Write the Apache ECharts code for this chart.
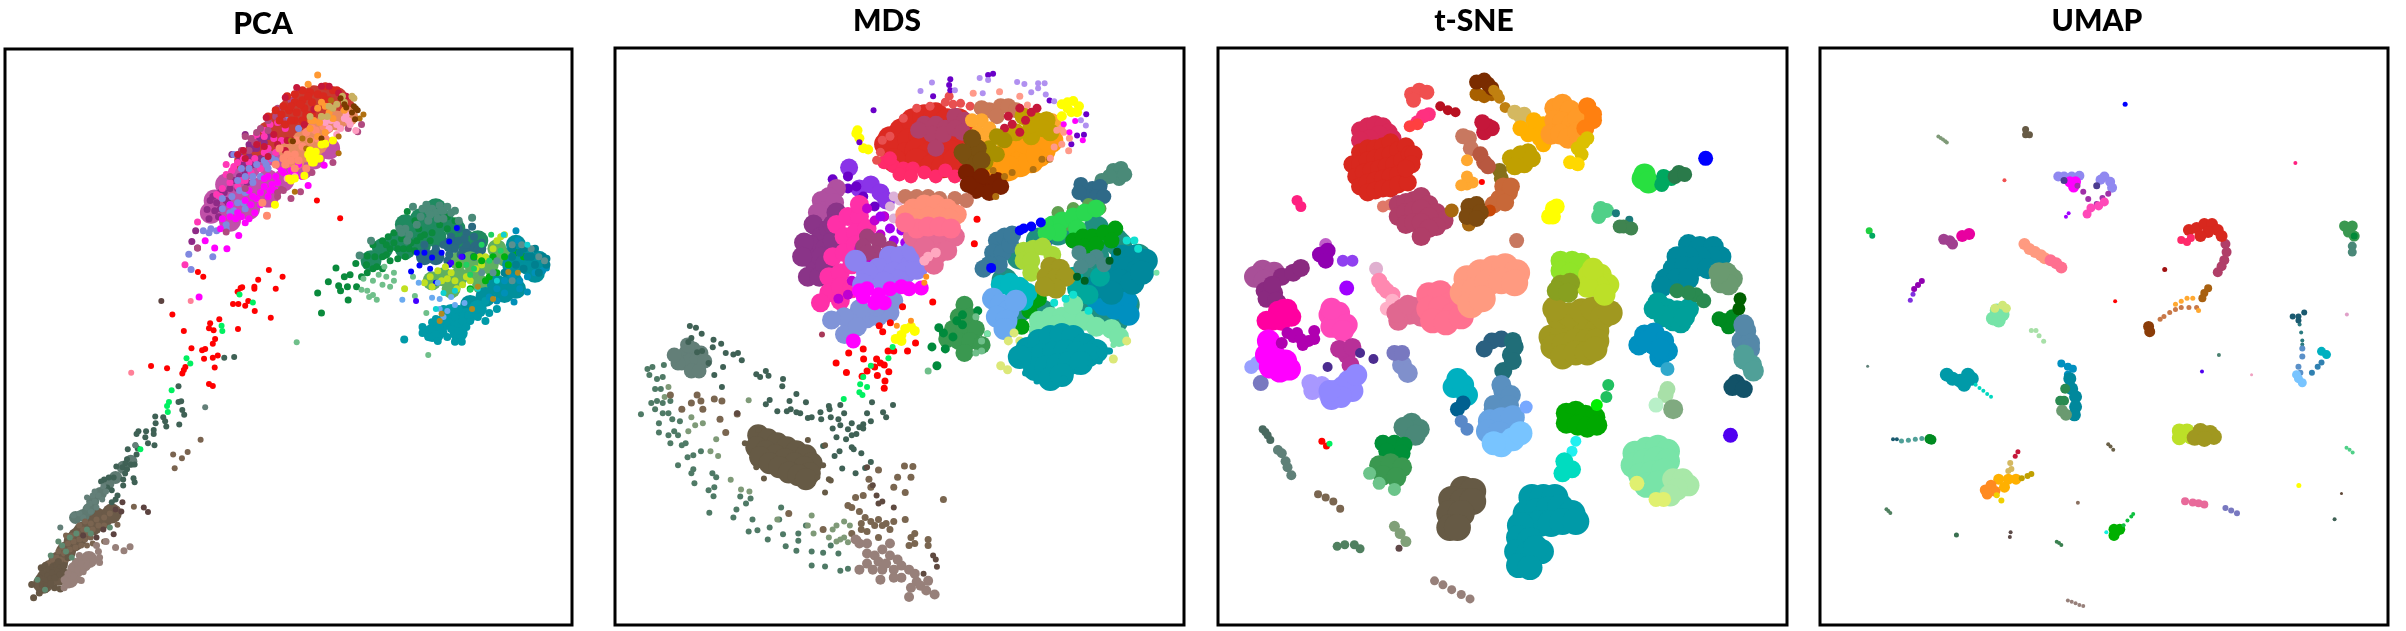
<!DOCTYPE html>
<html>
<head>
<meta charset="utf-8">
<title>PCA MDS t-SNE UMAP</title>
<script src="https://cdn.jsdelivr.net/npm/echarts@6/dist/echarts.min.js"></script>
<style>
  html, body { margin: 0; background: #fff; }
  #main { width: 2406px; height: 631px; }
</style>
</head>
<body>
<div id="main"></div>
<script>
var titles = ['PCA', 'MDS', 't-SNE', 'UMAP'];

/* PCA */
var pcaFillLow = [550,530,580,520,610,500,640,480,670,470,700,450,620,440,650,420,680,400,710,385,590,460,740,400,770,380,560,500,600,550,650,520,700,490,740,450,790,420,820,395,860,370];
var pcaFillUp = [700,330,730,300,760,270,790,250,820,240,850,235,880,245,750,330,780,300,810,280,840,270,870,270,900,270,720,350,670,370,640,400];
var pcaFillMid = [790,350,820,330,850,310,880,300,770,400,800,380,830,360,750,370,910,290];
var pcaFillGreen = [1000,620,1040,600,1080,580,1120,560,1160,550,1190,570,1060,620,1100,610,1140,590,1220,600,970,650,1130,530,1060,560,1100,545,1140,520,1250,600];
var pcaFillDeep = [1180,610,1220,630,1250,620,1140,640,1110,640];
var pcaFillLime = [1160,690,1200,690,1240,680,1280,660,1320,640,1200,650,1260,710,1180,720,1130,700,1230,650,1300,620];
var pcaFillRight = [1340,660,1380,660,1410,650,1300,710,1340,700,1270,740,1230,760,1370,630,1320,730,1350,720,1400,680,1350,610];
var pcaFillBottom = [1150,810,1190,810,1220,790,1180,780,1250,770,1140,830,1200,830,1130,830];
var pcaFillBrown = [130,1420,150,1400,120,1440,170,1375,190,1350,215,1325,240,1310,265,1295,150,1435,110,1455,200,1340,250,1290,290,1280];
var pcaFillRose = [195,1420,215,1405,180,1445,230,1395];
var pcaFillSlate = [240,1250,215,1285,280,1205,320,1165,260,1230,300,1190,340,1150,230,1270,195,1290];
var pcaSlate = [465,963,465,1002,472,1000,475,1022,480,1034,467,1058,404,1038,405,1055,425,1040,430,1050,433,1063,360,1075,355,1082,380,1075,400,1072,378,1090,400,1082,385,1105,402,1110,352,1110,358,1118,332,1120,355,1133,330,1145,326,1155,340,1158,350,1158,302,1163,318,1165,330,1170,325,1180,347,1192,350,1202,320,1195,295,1190,282,1190,270,1195,262,1200,278,1215,290,1222,320,1210,305,1235,300,1245,290,1252,585,892,611,890];
var pcaSlateLight = [225,1240,240,1235,255,1235,265,1245,245,1250,232,1255,250,1265,225,1265,205,1280,190,1285,215,1290,155,1315,235,1275,275,1225,535,1015,352,1110,245,1225,268,1212];
var pcaTaupe = [300,1270,285,1280,270,1290,305,1270,250,1295,235,1305,220,1300,205,1310,255,1310,240,1320,225,1330,270,1310,215,1320,200,1330,185,1335,190,1350,205,1345,220,1345,235,1340,170,1335,175,1355,160,1365,150,1375,165,1380,180,1370,195,1365,210,1360,225,1360,240,1355,145,1390,155,1395,170,1395,135,1395,125,1405,348,1263,523,1096,489,1127,474,1142,451,1133,455,1167,305,1308,270,1350];
var pcaBrown = [105,1415,115,1410,125,1420,135,1412,145,1408,155,1415,110,1430,122,1435,135,1428,148,1425,100,1440,115,1448,130,1442,142,1440,155,1432,165,1425,108,1458,120,1460,80,1457,100,1478,85,1490,140,1465,155,1468,115,1470,130,1455,150,1400,165,1410,175,1390];
var pcaRose = [205,1385,220,1390,235,1385,195,1400,210,1405,225,1410,240,1400,185,1415,200,1420,215,1425,175,1430,190,1435,205,1445,165,1445,180,1450,165,1465,175,1458,255,1375,258,1390,250,1360,258,1402,338,1363,322,1373,300,1365,210,1447,275,1350];
var pcaSeaBits = [235,1330,225,1320,170,1375,185,1390,150,1350,160,1360,130,1385,115,1470,95,1445,197,1330,180,1340,285,1315];
var pcaMaroon = [318,1252,300,1270,315,1275,385,1276,374,1265,295,1332,268,1320,250,1340,215,1335,420,750];
var pcaRed = [828,500,889,544,516,678,530,690,702,673,674,697,738,690,720,720,664,715,664,720,632,716,628,718,620,727,648,750,640,762,622,758,608,758,665,775,707,792,621,820,572,796,548,806,545,818,557,823,479,825,449,784,561,845,555,857,535,870,527,873,499,868,532,894,555,892,568,886,560,916,483,915,479,922,475,931,393,912,435,918,545,957,555,962];
var pcaSpring = [625,734,660,754,578,812,580,825,486,893,496,906,447,973,440,1002,435,1012,437,1027,365,1120];
var pcaPeach = [341,929,497,750];
var pcaPlum = [540,522,548,500,555,490,545,545,565,505,575,520,585,480,600,470,570,540,595,505,610,450,625,440,640,430,650,390,660,370,675,345,640,335,650,360,670,370,690,355,700,340,605,385,625,390,635,410,660,410,680,395,510,575,500,602,515,618,575,480,560,525,590,500,620,470,645,455];
var pcaHotPink = [515,553,590,410,590,435,605,425,620,405,635,395,600,455,580,470,565,485,620,465,640,450,655,430,680,420,700,400,720,380,670,335,690,325,705,310,725,305,745,320,715,345,735,350,690,380,482,660,575,490,610,415,665,395,650,405,630,450,700,370,660,345,690,340];
var pcaPeriwinkle = [550,570,530,575,545,580,565,575,590,570,580,520,600,510,620,505,640,480,625,475,605,490,580,495,620,450,640,440,660,455,670,410,690,400,710,395,650,420,630,420,610,385,700,420,720,400,760,265,780,320,750,300,492,634,498,672,555,640,590,560,610,525,635,505,680,440,600,530,660,440,695,410,640,520];
var pcaMagenta = [600,540,620,530,650,545,665,530,680,510,660,490,680,480,700,490,690,465,710,460,720,440,740,430,760,425,780,410,790,440,805,462,720,475,735,425,700,440,640,500,600,510,580,545,623,587,592,620,560,618,535,600,519,740,575,570,650,475,670,495,615,545,705,475,750,440,690,445,630,540,655,510,725,455,770,430,640,555,847,412];
var pcaRosePurple = [640,340,655,345,670,330,680,320,700,300,720,290,740,300,650,375,630,375,760,250,725,270,590,578,515,618,600,440,640,470,760,495,725,490,785,478,735,472,945,310,935,328,910,320,725,480,665,355,700,325,815,430,870,405,740,475];
var pcaRedTop = [700,290,720,275,740,265,750,240,770,235,790,225,810,230,790,250,770,255,755,275,775,280,795,270,815,255,830,235,850,215,870,225,845,240,730,300,745,310,770,300,790,300,860,250,880,225,805,240,735,285,785,260,760,300,800,285,760,265,815,285];
var pcaCrimson = [775,218,745,243,695,293,905,240,885,232,860,215,840,215,820,272,725,360,700,390,670,360,640,395,620,385,635,375,765,350,745,375,715,335,690,365,750,350,795,310];
var pcaSalmon = [730,370,750,385,770,385,790,365,810,350,800,330,825,325,845,315,770,420,745,410,720,410,800,420,697,538,685,505,760,400,815,320,775,350,780,400,830,345,850,345,740,395];
var pcaPink = [880,310,900,295,915,310,930,325,910,300,770,440,750,445,880,335,860,320,890,320,905,285,865,300,850,305];
var pcaOrange = [820,300,840,290,860,280,830,270,850,265,805,210,830,187,812,300,900,275,830,340,850,330,835,305,870,295,840,255,810,320];
var pcaKhaki = [870,270,880,260,900,255,920,240,925,245,840,290,810,290,860,265,895,240,855,290];
var pcaBronze = [950,285,940,295,760,350,790,345,810,350,885,340,885,382,770,478,865,250,800,370];
var pcaDarkBrown = [930,270,920,280,925,265,900,260,890,245,928,297,765,352,840,345,905,268,935,275];
var pcaYellow = [820,385,810,395,820,405,840,360,850,358,805,385,760,450,770,445,795,438,718,510,870,350,825,378,815,405,830,395,755,445,835,395,810,375];
var pcaGreen = [878,668,930,657,900,690,915,685,858,702,885,712,890,725,908,715,932,715,945,690,958,660,975,670,960,680,985,665,1000,640,1020,620,1000,600,1015,590,1030,605,1050,595,1040,620,1070,620,1090,600,1095,570,1110,585,1130,580,980,640,960,638,1000,670,1020,650,1060,640,1040,645,830,730,840,780,910,748,1065,527,1085,550,1150,560,1170,540,1190,550,975,610,1010,610,1030,580,1075,605,1100,590,1010,635,1085,625,1125,600,1170,570,1055,620];
var pcaGreyGreen = [1150,512,1130,520,1120,525,1100,540,1090,560,1060,570,1045,570,1070,585,1140,530,1160,525,1180,530,1200,550,1080,515,1120,550,1160,545,940,637,970,600,1235,543,1050,580,1065,600,1105,520,1170,515,1145,545,1190,525,1125,535,1115,510,1155,525];
var pcaSea = [1010,690,1030,700,990,685,975,700,950,695,960,725,975,735,985,747,965,740,945,722,1020,715,1000,710,775,853,1120,885,1115,780,1085,738,1080,690,1005,665,1030,680];
var pcaDeepTeal = [1200,570,1220,580,1240,590,1180,590,1200,600,1160,610,1140,620,1190,620,1220,610,1250,620,1170,650,1130,640,1110,610,1150,640,1240,640,1260,605,1215,595,1175,635,1235,565,1205,635];
var pcaBlue = [1195,568,1175,602,1155,630,1130,642,1097,662,1075,677,1125,670,1175,660,1140,705,1090,630,1110,630,1210,640];
var pcaViolet = [1088,750,1207,640,1180,655];
var pcaLime = [1130,715,1125,690,1145,675,1165,665,1180,680,1200,660,1190,700,1210,710,1245,670,1260,660,1290,620,1310,590,1320,585,1300,600,1270,640,1058,720,1110,705,1195,720,1220,690,1170,695,1255,640,1230,700,1155,700];
var pcaBright = [1240,640,1290,640,1320,640,1350,630,1330,660,1270,700,1230,720,1200,660,1300,680,1370,640,1260,650,1280,690];
var pcaEmerald = [1260,610,1285,585,1240,670,1220,660,1280,650,1310,625,1230,722,1230,685];
var pcaTeal = [1130,820,1150,815,1170,800,1190,790,1210,800,1230,800,1250,790,1160,830,1180,820,1200,825,1220,815,1120,840,1145,850,1105,815,1105,830,1190,852,1208,852,1130,803,1270,800,1280,780,1260,770,1240,770,1057,846,1170,840,1160,770,1200,770,1140,795,1225,785,1300,770,1270,750];
var pcaCerulean = [1300,720,1320,700,1340,690,1360,700,1380,690,1400,680,1420,675,1280,740,1300,750,1345,753,1380,728,1350,575,1355,600,1320,730,1360,720,1430,668];
var pcaDeep = [1340,640,1360,630,1380,640,1400,660,1420,640,1430,660,1370,670,1350,660,1320,680,1400,620,1430,645,1390,640,1340,620,1370,620,1410,680];
var pcaGreyTeal = [1410,640,1425,650,1390,620,1365,610,1340,610,1300,650,1290,680,1260,680,1340,700];
var pcaSky = [1180,740,1150,770,1170,775,1190,760,1215,755,1150,745,1130,742,1052,747,1095,705,1145,705,1160,790];
var pcaCyan = [1380,610,1318,585,1160,730,1190,725,1140,770,1250,720,1300,700];
var pcaGold = [1330,678,1355,680,1250,715,1290,745,1235,770,1150,800,1155,782];

/* MDS */
var mdsGroupTop = [225,880,245,870,265,880,215,905,235,900,255,895,275,900,240,925,260,925,205,905,195,885,230,860];
var mdsSlate = [236,813,252,817,267,832,240,843,232,853,298,847,318,857,296,866,330,880,350,884,362,880,372,898,300,935,323,915,285,905,268,875,255,878,410,933,420,940,435,925,442,937,515,982,540,1003,600,1012,602,1020,445,997,435,1008,497,1000,500,1020,465,1025,490,1025,515,1028,525,1030,545,1042,555,1040,578,1028,580,1045,605,1040,625,1045,640,1030,610,1068,630,1060,650,1070,660,1055,680,1065,690,1058,710,1050,700,1030,713,1003,768,1010,750,1040,742,1028,630,1010,620,1090,645,1095,660,1085,672,1082,690,1068,660,1115,665,1120,685,1130,615,1137,628,1125,585,1112,635,1168,670,1180,695,1167,710,1152,480,945,478,963,320,965];
var mdsGreen = [125,920,138,915,168,910,130,935,150,945,165,940,145,970,160,970,135,1005,150,1000,165,1005,185,1000,108,1033,145,1020,165,1030,180,1030,190,1045,210,1050,155,1055,155,1078,180,1085,195,1075,205,1085,215,1110,185,1105,225,1105,230,1140,245,1135,265,1125,205,1160,245,1170,240,1180,248,1205,295,1180,305,1190,285,1222,300,1215,298,1237,287,1278,350,1290,358,1270,383,1255,368,1238,395,1243,390,1325,413,1322,400,1295,440,1345,445,1315,480,1332,487,1362,520,1348,515,1373,555,1410,590,1412,630,1423,650,1418,555,1375,585,1378,625,1380,605,1360,520,1330,540,1310,470,1295,475,1265];
var mdsSage = [180,965,170,990,240,1040,250,1060,232,1075,270,1055,305,1095,310,1137,290,1125,343,1196,370,1220,392,1225,465,1295,555,1285,620,1310,640,1340,620,1350,640,1300,655,1310,545,1310,560,1330,600,1340,610,1320,390,998,630,1345,650,1352];
var mdsTaupe = [185,985,255,985,240,1005,265,1000,300,995,320,1000,270,1020,330,1078,315,1045,215,1020,360,1032,798,1162,820,1163,815,1190,780,1190,770,1215,800,1228,900,1245,650,1260,670,1240,690,1235,710,1215,705,1195,730,1172,660,1265,680,1275,695,1290,685,1305,710,1300,730,1295,750,1305,770,1300,800,1295,700,1325,730,1340,760,1320,815,1340,825,1330,860,1345,860,1360,825,1355,810,1360,720,1310,740,1310,685,1320,585,1320,495,1280,660,1330,675,1345];
var mdsDarkBrown = [700,1165,715,1210,725,1235,740,1250,770,1265,730,1255,360,1030,873,1385,880,1395,883,1413,848,1430];
var mdsRose = [700,1380,720,1385,740,1370,760,1385,780,1395,730,1400,750,1405,770,1420,790,1410,810,1420,825,1430,790,1440,770,1440,740,1420,715,1420,680,1420,700,1405,680,1355,670,1345,700,1355,735,1445,830,1450,860,1448,840,1460,815,1465,810,1488,877,1482,855,1472,760,1355];
var mdsBlobCore = [415,1085,440,1095,465,1105,490,1115,515,1125,540,1135,555,1155,410,1115,435,1125,460,1135,485,1145,510,1155,535,1165,550,1180,420,1140,445,1155,470,1165,495,1178,520,1185,540,1195];
var mdsBlobEdge = [380,1105,600,1195,590,1228,430,1193,410,1165,585,1160,545,1097,590,1110,570,1190,415,1072,605,1198];
var mdsRedFill = [760,345,790,325,820,300,850,290,880,285,780,370,810,350,840,340,870,355,900,360,925,345,800,385,830,375,860,385,890,390,920,380,750,360,830,400,870,415,900,415,930,400,910,300,940,300,960,330,770,400];
var mdsPlumRed = [850,310,880,310,905,320,930,290,955,300,870,335,900,335,930,320,880,370,835,325,950,330];
var mdsHotRed = [745,405,770,415,795,420,820,420,760,395,850,430,880,440,930,440,905,425,785,435,815,440];
var mdsSalmonRed = [735,380,740,350,925,260,945,258,915,240,905,255,970,265,955,395,725,400,760,340,795,295,830,270,865,265];
var mdsRoseBrown = [1020,275,1050,265,1040,290,1070,265,1000,270,1090,275];
var mdsCrimson = [1070,290,1100,270,1130,280,1145,270,1080,310,1115,300,1060,320,1100,330,1045,340];
var mdsGold = [1110,290,1140,300,1170,300,1090,330,1130,340,1160,320,1055,345,1180,330,1130,310];
var mdsOrange = [1060,390,1090,380,1120,370,1150,350,1100,410,1070,420,1130,400,1040,410,1160,375,1110,350,1150,385,1180,350];
var mdsAmber = [1000,300,990,330,1020,320,1170,320,1185,300,1010,345,975,300,1195,315];
var mdsOliveDark = [1020,370,1040,340,1060,350,1010,405,1040,385];
var mdsUmber = [960,390,990,370,980,410,1000,400,975,345,950,380];
var mdsMaroon = [980,450,1010,460,1040,450,960,430,1000,440,1020,480,985,475,1050,465,965,460];
var mdsBronze = [1030,425,1060,440,1080,430,1037,490,1135,423,1158,397,1178,397];
var mdsYellow = [1210,260,1225,255,1240,252,1255,265,1235,280,1250,280,1210,290,1225,270,675,325,680,345,690,370,672,333,703,373,800,820,790,850,815,815,790,835,775,845,825,825];
var mdsSprayPurple = [717,275,873,240,918,198,915,212,918,225,1017,187,1030,184,1178,251,1274,285,1268,336,1250,338,1235,360,680,355];
var mdsSprayLilac = [870,206,840,227,995,195,1017,200,1093,205,1112,210,1148,208,1165,208,1168,236,1148,220,1130,230,1003,233,930,225,1260,300,1273,313,1190,253];
var mdsSprayPeach = [978,233,1047,229,1100,240,1120,262,1215,330,1230,345,1210,360,1228,376,1190,367,1180,395,1197,325,1210,318];
var mdsSprayMagenta = [1245,302,1230,330,1265,350,1215,310];
var mdsViolet = [680,470,710,460,735,480,750,500,653,418];
var mdsIndigo = [610,447,650,440,650,470,690,490,720,515,745,540,672,465];
var mdsPlumRose = [620,470,600,490,580,500,590,525,570,530,615,505];
var mdsPlum = [560,560,580,590,550,610,590,620,540,640,565,660,600,570,620,530,580,640,545,690,575,690,535,605,530,640,610,600,610,560,590,660];
var mdsHotPink = [620,560,650,540,680,540,640,590,670,580,610,640,640,630,670,610,600,690,630,680,660,660,600,730,630,750,578,755,680,510,630,715,660,720,700,570];
var mdsPurple = [700,520,720,550,745,540,680,620,700,650,660,700,650,735,625,745,735,585,710,590];
var mdsBrightPurple = [760,570,790,575,735,540,800,605,770,600];
var mdsMauve = [700,590,730,600,760,620,745,650,720,630,690,615,700,630];
var mdsPeriwinkle = [760,640,790,640,820,650,730,670,770,680,800,680,830,670,780,700,700,680,670,650,820,625,690,710,745,705];
var mdsMagenta = [700,720,730,735,760,720,790,715,810,720,720,755,745,755,690,740,842,718,664,850,680,725];
var mdsSteelLilac = [670,790,700,795,730,790,760,780,680,770,650,795,640,790,607,798,641,834,725,765,770,750,675,815];
var mdsLilacPink = [770,490,760,515,770,545,785,500];
var mdsSalmon = [820,520,850,510,880,510,910,520,935,535,800,535,830,545,860,540,890,540,915,545];
var mdsCoral = [830,570,860,565,890,565,920,570,800,555];
var mdsRosy = [800,490,830,490,860,490,890,495,930,495,960,500];
var mdsPinkMid = [840,600,870,600,900,600,930,590,860,630,890,630,875,660,910,625,820,590,850,615];
var mdsPalePink = [860,640,880,630,850,650];
var mdsRedLow = [988,547,981,608,872,753,793,765,761,805,732,812,741,827,690,870,652,880,619,905,646,929,691,895,725,895,735,905,745,910,720,915,700,925,687,938,727,936,757,927,747,950,745,968,770,875,755,875,806,875,827,855];
var mdsRedLowDark = [582,834];
var mdsSpringLow = [767,865,756,893,710,912,690,940,682,958,700,965,680,978,688,985,639,995];
var mdsOrangeLow = [855,690,850,705,778,812,815,800];
var mdsGreenTri = [955,760,940,790,970,790,925,820,955,820,985,820,910,845,940,850,970,850,1000,860,955,880];
var mdsGreenTriDark = [935,800,900,830,905,870,950,810,888,817,870,865,883,912,925,840,950,785,990,775];
var mdsGreenTriLight = [985,790,1000,850,985,880,1015,832,860,925,1000,875];
var mdsGreyGreenTop = [1345,425,1365,420,1360,445,1335,440,1315,450,1375,435];
var mdsSteelTop = [1290,470,1310,465,1275,490,1300,490,1320,490,1260,460,1255,480];
var mdsRightFill = [1150,600,1200,580,1250,590,1300,570,1350,600,1100,640,1300,640,1360,610,1410,640,1280,700,1330,770,1380,760,1060,700,1100,770,1160,780,1250,760,1300,790,1350,800,1390,690];
var mdsEmerald = [1185,560,1210,550,1240,540,1270,530,1200,580,1250,570,1300,520,1170,580];
var mdsMoss = [1240,520,1280,510,1310,520,1230,560,1200,530];
var mdsBlue = [1110,570,1130,565,1155,555,1100,575,1170,610,1025,668];
var mdsSteelLeft = [1040,600,1060,590,1030,630,1055,630,1045,660,1075,610,1020,660,1005,670,1080,585];
var mdsLimeY = [1110,625,1135,620,1160,615,1185,635,1110,650,1130,650,1130,680];
var mdsOlive = [1180,665,1205,670,1170,690,1195,695,1220,690,1195,720,1165,715];
var mdsCyanTeal = [1050,710,1075,705,1100,715,1120,730,1085,740,1110,750];
var mdsSky = [1030,745,1050,760,1070,775,1090,750,1040,790,1065,800,1060,820];
var mdsGreenBright = [1240,600,1265,590,1290,590,1320,580,1350,570,1270,615,1300,610,1340,600,1125,775,1140,750,1105,815,1150,745];
var mdsGreyTeal = [1300,640,1320,660,1280,650,1255,630,1260,665];
var mdsDeep = [1370,640,1400,640,1430,650,1350,670,1380,670,1410,675,1330,690,1360,700,1395,705,1300,715,1340,730,1420,680];
var mdsCerulean = [1320,760,1350,770,1300,745,1380,750,1385,785];
var mdsTealMid = [1250,720,1280,735,1240,690,1310,690];
var mdsMint = [1150,800,1180,790,1210,790,1240,790,1270,800,1300,815,1340,820,1150,825,1200,810,1360,840,1240,760];
var mdsPaleY = [1100,850,1085,830,1110,880,1070,850,1345,895,1050,912,1068,922,1380,850];
var mdsForest = [1355,628,1335,650,1250,690,1270,700];
var mdsCyan = [1190,755,1220,745,1280,775,1240,735,1380,600,1410,620,1400,600];
var mdsTeal = [1120,870,1150,850,1180,840,1210,835,1240,840,1270,860,1300,875,1130,895,1160,885,1190,880,1220,875,1250,880,1280,885,1140,920,1170,915,1200,910,1230,905,1260,905,1180,945,1210,935,1100,890];
var mdsTealEdge = [1095,905,1115,930,1145,950,1180,960,1215,945,1250,925,1285,905,1310,880,1335,875,1308,900,1330,875];
var mdsMintOut = [1458,680,1345,860,1015,832];

/* t-SNE */
var tsCoral = [555,235,575,225,595,230,560,250];
var tsRed = [400,410,420,380,440,370,460,370,480,365,500,355,420,410,440,400,460,395,480,390,500,385,520,375,540,365,410,440,430,430,450,425,470,420,490,415,510,410,530,400,550,385,420,465,440,455,460,450,480,445,500,440,520,435,440,480,460,475,480,470,500,470,520,460,545,455,560,385,555,410,540,420];
var tsCrimsonPink = [420,325,440,315,460,310,480,315,495,330,470,335,445,345,420,350,505,345];
var tsPlum = [520,510,540,505,560,500,580,490,600,510,620,530,640,550,520,540,540,530,560,525,580,520,600,540,620,565,540,560,560,555,580,555,600,570,580,590];
var tsSalmonRed = [480,515,500,510];
var tsHotPink = [600,285,585,290,570,305];
var tsOrangeRed = [570,310,550,315];
var tsDarkRed = [650,275,670,280,630,265];
var tsCrimson = [755,315,745,330,765,320,740,305];
var tsMahogany = [745,200,725,205,755,210,765,220];
var tsBrown = [725,235,745,240,765,235];
var tsBronze = [785,245,770,225,800,268,780,235];
var tsKhaki = [840,290,860,300,825,280,850,285];
var tsAmber = [880,320,860,335,890,345,900,360,840,320,875,300,900,310];
var tsOrange = [930,270,950,260,970,275,930,300,950,305,975,310,990,295,920,335,945,335,965,345,990,330];
var tsOrangeDeep = [1015,265,1030,300,1010,320,1030,285];
var tsGold = [1005,355,1000,385,990,370,1015,345];
var tsGoldBright = [990,410,970,405];
var tsMustard = [815,395,840,385,860,380,850,410,825,415,870,395];
var tsOliveDark = [785,425,790,445];
var tsRoseBrown = [705,345,710,370,690,340];
var tsSienna = [735,385,745,405,755,415];
var tsLightOrange = [700,460,715,455,700,440,685,462,700,400];
var tsTerracotta = [795,465,810,480,785,495,770,510,800,505,815,465];
var tsUmber = [705,515,725,510,735,530,700,540,725,545];
var tsBurnt = [760,525,745,530];
var tsTan = [705,560,660,525];
var tsRedDot = [739,454];
var tsPinkRed = [255,500,265,515];
var tsYellow = [925,520,925,540,915,540,935,515];
var tsMintSmall = [1050,520,1065,525,1045,540];
var tsMoss = [1110,565,1130,570,1100,565];
var tsTealSmall = [1125,548,1090,532];
var tsLimeGreen = [1165,435,1160,445,1175,455];
var tsSeaGreen = [1215,440,1210,460,1235,445];
var tsForest = [1255,430,1245,440,1270,435];
var tsBlue = [1325,395];
var tsTealArc = [1280,610,1310,615,1345,615,1365,640,1340,640,1310,640,1280,640,1250,640,1240,670,1270,665,1300,665,1330,670,1220,695,1250,695,1280,695,1210,715];
var tsSage = [1380,680,1395,695,1365,705,1385,710,1360,680];
var tsGreen2 = [1300,735,1320,750,1280,730,1250,725];
var tsTealMid = [1200,755,1225,770,1250,775,1280,770,1240,800,1260,805,1215,790,1190,770,1270,790];
var tsCerulean = [1165,835,1190,830,1215,850,1190,860,1225,875,1205,890,1150,860,1170,850,1205,870];
var tsCeruleanPale = [1225,920];
var tsDarkGreen = [1412,770,1415,745];
var tsGreen3 = [1385,815,1375,800,1395,790,1360,795];
var tsSteel = [1430,825,1420,850,1440,855,1425,810,1440,870];
var tsTeal4 = [1425,895,1445,910,1425,885,1450,925];
var tsNavy = [1405,955,1395,965,1425,970];
var tsPale = [1225,970,1220,985];
var tsPaler = [1195,1010];
var tsGrayGreen = [1240,1020];
var tsIndigo = [1390,1085];
var tsLightGreen = [1140,1130,1170,1120,1200,1115,1225,1125,1135,1160,1165,1150,1195,1145,1225,1150,1155,1185,1185,1180,1215,1175,1170,1210,1200,1205];
var tsPaleGreen = [1240,1195,1265,1195,1280,1210,1250,1220,1232,1235];
var tsPaleYellow = [1195,1245,1215,1245,1145,1205];
var tsOliveBig = [920,840,950,830,980,820,1010,820,1040,825,925,865,955,860,985,850,1015,850,1040,850,950,890,985,880,1015,880,1035,870,940,790,970,785,1000,775,1030,770,1055,790,1075,780,930,770];
var tsOlive2 = [945,710,970,705,935,725,965,730];
var tsLime = [945,650,975,650,1000,655,945,675,970,680];
var tsLimeY = [1020,685,1050,685,1070,710,1045,715,1015,715,1030,670,1060,735];
var tsPlumTop = [165,675,195,680,145,690,170,700];
var tsPlumDark = [170,725,195,730,215,690,245,680,175,745,205,755,190,710,200,750,265,668];
var tsLilac = [330,610];
var tsPurpleDeep = [315,635,335,625,330,650];
var tsViolet = [375,650,400,650];
var tsVioletSmall = [385,718];
var tsPinkLite = [462,670];
var tsRoseLight = [480,715,505,735,470,700,490,725];
var tsPaleRose = [505,750,490,770];
var tsRosePink = [530,770,550,785,520,800,560,765,515,780,545,760,580,790];
var tsCoralBig = [600,735,630,730,655,760,600,770,630,770,665,785,610,800,645,805,685,790];
var tsSalmon = [700,695,735,680,770,670,800,665,830,680,690,730,720,725,755,705,790,700,825,705,710,760,740,745];
var tsDustyBrown = [830,600];
var tsHotMagenta = [220,770,190,800,215,800,240,790,205,775,175,800,230,770];
var tsMagenta = [205,905,225,900,185,915,210,925,235,920,175,885,195,885,180,850];
var tsMagentaDark = [230,830,255,830,285,850,215,855,270,860,245,840,265,845,300,825,300,845];
var tsPeri = [135,915,150,905];
var tsPeriDark = [160,955];
var tsOrchid = [340,785,365,780,385,810,345,815,375,825,345,770];
var tsPurpleRose = [385,885,395,910,365,870,400,865];
var tsIndigoDark = [335,915,455,895,420,880];
var tsLavender = [310,965,295,975,335,985,320,960,290,955];
var tsPeriBig = [390,950,400,975,355,975,375,965,345,995,410,935,370,990,340,975];
var tsSlateBlue = [510,880,530,880];
var tsBlueGrey = [530,910,545,930];
var tsSteelMid = [765,850,790,845,745,870];
var tsDeepTeal = [820,850,815,885,795,925,825,865,820,900];
var tsCyanMid = [665,965,690,960,700,985,675,945];
var tsPetrol = [675,1020,690,1005];
var tsBlue2 = [700,1070,685,1050];
var tsBlueSteel = [795,975,795,1005,770,1020,790,960,815,985,770,1010,810,1010];
var tsSkyMid = [760,1050,790,1045,820,1040,755,1075,785,1080];
var tsSkyLight = [790,1110,820,1095,770,1105,840,1080];
var tsCorn = [855,1015];
var tsGreenBig = [960,1030,985,1025,1010,1035,1035,1040,960,1055,990,1060,1015,1065,1040,1060];
var tsLimeBright = [1040,1010];
var tsEmeraldSmall = [1070,960,1065,990];
var tsCyanLow = [985,1100,975,1125];
var tsTurq = [955,1150,975,1170,950,1180];
var tsTealBig = [870,1240,900,1240,930,1240,855,1280,885,1275,915,1270,945,1265,975,1280,860,1310,890,1305,920,1305,950,1300,985,1300,840,1310];
var tsTealBig2 = [835,1340,865,1345,895,1375,830,1375,860,1380,880,1365,835,1410,865,1415];
var tsGreenGrey = [555,1055,575,1070,535,1065,565,1085];
var tsGreenDeep = [480,1105,510,1105,535,1110,490,1125,530,1130];
var tsGreenMid = [470,1160,500,1155,530,1165,480,1185,515,1190];
var tsGreenLite = [445,1180,470,1205,510,1220];
var tsBrownBlob = [690,1220,715,1225,660,1245,690,1250,715,1250,655,1280,685,1280,655,1315,675,1315];
var tsGreySmall = [165,1070,172,1077,178,1085,185,1097];
var tsSlate2 = [205,1122,215,1130,225,1150,230,1165,240,1185];
var tsTaupeS = [310,1232,330,1240,350,1250,368,1268];
var tsSeaS = [360,1362,380,1358,405,1358,420,1368];
var tsSageS = [510,1312,525,1330,540,1350];
var tsMaroonS = [522,1367];
var tsRoseS = [615,1448,637,1458,660,1470,685,1482,708,1493];
var tsRedCluster = [320,1100,332,1112];
var tsSpringDot = [340,1106];

/* UMAP */
var umBlue = [844,262];
var umBrownTop = [585,325,585,338,595,338];
var umSageLine = [358,342,364,346,370,350,376,354,380,357];
var umHotPink = [1287,408];
var umCoral = [530,451];
var umPeri = [670,442,685,442,705,442,725,440,790,442,805,455,810,470,780,450];
var umMagenta = [700,455,715,455,710,468];
var umSlate = [770,465,685,452];
var umPurple = [720,465,735,480,748,498,800,485,785,495,770,510];
var umOrchid = [755,520,775,515,790,505,745,535];
var umPurpleSmall = [690,542,697,533];
var umGreenDot = [178,577];
var umSeaDot = [186,589];
var umMagentaDeep = [420,590,438,585];
var umPlumLeft = [372,598,388,602,395,610];
var umSalmonBar = [582,610,595,622,610,630,625,638,635,645];
var umPinkBar = [650,650,665,658,678,668];
var umRedArc = [1010,575,1030,570,1050,560,1070,560,1085,575,1095,590,1060,580,1040,590];
var umPinkArc = [990,600,1005,605,1015,595];
var umPlumArc = [1105,610,1108,630,1102,650,1095,665,1085,680];
var umMaroonDot = [947,673];
var umVioletBar = [315,702,305,712,295,722];
var umVioletBar2 = [292,735,285,750];
var umRedDot = [818,752];
var umBrownArc = [1060,720,1050,732,1045,745];
var umAmberArc = [1020,745,1005,745,990,752,975,760,1035,775];
var umTerracottaArc = [1030,768,1010,768,990,768,975,773,960,780,945,790,935,797];
var umDarkBrownDot = [905,815,908,828];
var umMintBlob = [500,795,515,800,525,785,510,775];
var umPaleYBlob = [505,770,525,762,535,770];
var umPaleSmall = [600,825,612,825,620,838,632,852];
var umNavyArc = [1280,790,1295,790,1310,780,1295,800];
var umTealArc = [1298,810,1302,830,1305,850,1305,860];
var umBlueArc = [1305,870,1305,890,1295,915,1300,930];
var umSkyArc = [1295,945,1305,955,1290,935];
var umCyanArc = [1355,877,1368,885];
var umPetrolArc = [1345,915,1330,930,1355,905];
var umPaleDot = [1421,785];
var umPaleDot2 = [1173,935];
var umGreyDot = [1088,886];
var umVioletDot = [1044,927];
var umTinyGrey = [174,914];
var umTealBlob = [380,935,395,945,415,950,435,935,445,945,425,960];
var umTurqLine = [455,960,465,968,475,975,485,983,495,990];
var umGreenTop = [1415,565,1435,565,1425,580,1440,590];
var umGreenDeep = [1440,590];
var umGreyTeal = [1435,615,1435,630];
var umCeruNeck = [678,907,695,915,708,920,695,935];
var umTealNeck = [700,945,705,970,715,990,715,1015,712,1035];
var umGreenNeck = [688,970,685,1000,675,1000];
var umSageNeck = [680,1025,690,1035];
var umLineDark = [240,1096,250,1096];
var umLineTeal = [262,1100,280,1098,298,1096,315,1094];
var umLineGreen = [335,1095,340,1097];
var umLimeBlob = [985,1075,1005,1075,1015,1090,985,1092];
var umOliveBlob = [1040,1075,1065,1080,1075,1090,1025,1092,1050,1095];
var umCrimsonBar = [565,1127,558,1138];
var umKhakiBar = [545,1155,540,1175,548,1170];
var umAmberBar = [540,1195,515,1195,560,1195,530,1215];
var umMustardBar = [600,1182,590,1187,575,1193];
var umOrangeBar = [480,1222,495,1210,505,1225,485,1232];
var umYellowBar = [510,1235,522,1248];
var umRosy = [1000,1250,1020,1253,1035,1255,1050,1258];
var umBlueGrey = [1105,1267,1120,1273,1135,1280];
var umYellowDot = [1296,1211];
var umDarkDot = [1407,1231];
var umSlateDot = [1389,1295];
var umMintBar = [1420,1117,1428,1122,1436,1129];
var umGreyBar = [800,1108,806,1114,813,1122];
var umTaupeDot = [721,1254];
var umSeaBar = [223,1270,228,1274,233,1279];
var umForestDot = [405,1334];
var umMaroonDots = [546,1327,544,1339];
var umForestBar = [666,1351,672,1354,678,1359];
var umGreenFunnel = [815,1335,820,1325,830,1320,815,1320];
var umGreenStem = [840,1310,850,1298,860,1288,865,1282];
var umCyanFunnel = [795,1327];
var umRoseBar = [695,1497,705,1500,715,1504,725,1508,735,1511];

var chart = echarts.init(document.getElementById('main'));

var frames = [
  {left: 5, top: 49, width: 567, height: 576, x: [10, 1497], y: [122, 1558], cx: 258, ty: 4},
  {left: 615, top: 48, width: 569, height: 577, x: [40, 1530], y: [120, 1558], cx: 882, ty: 1},
  {left: 1218, top: 48, width: 569, height: 577, x: [48, 1538], y: [120, 1558], cx: 1469, ty: 1},
  {left: 1820, top: 48, width: 568, height: 577, x: [50, 1528], y: [122, 1558], cx: 2092, ty: 1}
];

var series = [];

// 拆成 [x, y] 点
function pairs(list) {
  var out = [];
  for (var i = 0; i < list.length; i += 2) out.push([list[i], list[i + 1]]);
  return out;
}

function add(panel, color, size, list) {
  series.push({
    type: 'scatter',
    xAxisIndex: panel,
    yAxisIndex: panel,
    symbolSize: size,
    itemStyle: {color: color, opacity: 1},
    data: pairs(list),
    silent: true
  });
}

add(0, '#c050a8', 22, pcaFillLow); add(0, '#c83a30', 22, pcaFillUp); add(0, '#e88a60', 20, pcaFillMid);
add(0, '#1f8a60', 21, pcaFillGreen); add(0, '#2a6a80', 17, pcaFillDeep); add(0, '#60b060', 19, pcaFillLime);
add(0, '#00909c', 20, pcaFillRight); add(0, '#009aa8', 18, pcaFillBottom);
add(0, '#6b5a48', 20, pcaFillBrown); add(0, '#97807a', 17, pcaFillRose); add(0, '#5f7a72', 13, pcaFillSlate);
add(0, '#3f6155', 6, pcaSlate); add(0, '#637f78', 6, pcaSlateLight); add(0, '#7a6450', 6, pcaTaupe);
add(0, '#665745', 7, pcaBrown); add(0, '#97807a', 7, pcaRose); add(0, '#5f8a70', 6, pcaSeaBits);
add(0, '#5c4340', 6, pcaMaroon); add(0, '#ff0000', 6, pcaRed); add(0, '#00f060', 6, pcaSpring); add(0, '#ff8098', 6, pcaPeach);
add(0, '#8e2a86', 7, pcaPlum); add(0, '#ff37b5', 7, pcaHotPink); add(0, '#8088e0', 7, pcaPeriwinkle);
add(0, '#ff00ff', 7, pcaMagenta); add(0, '#b04a80', 7, pcaRosePurple); add(0, '#d8281e', 8, pcaRedTop);
add(0, '#c5173a', 7, pcaCrimson); add(0, '#ff8a70', 8, pcaSalmon); add(0, '#ff9ec2', 7, pcaPink);
add(0, '#ff9933', 7, pcaOrange); add(0, '#c9b060', 7, pcaKhaki); add(0, '#b07010', 6, pcaBronze);
add(0, '#7a3c00', 6, pcaDarkBrown); add(0, '#ffff00', 8, pcaYellow);
add(0, '#0a8a3c', 7, pcaGreen); add(0, '#4a8a78', 8, pcaGreyGreen); add(0, '#6fbf8a', 6, pcaSea);
add(0, '#2a6a80', 8, pcaDeepTeal); add(0, '#0000ff', 6, pcaBlue); add(0, '#4400ff', 6, pcaViolet);
add(0, '#c0e020', 7, pcaLime); add(0, '#00b010', 7, pcaBright); add(0, '#20d060', 6, pcaEmerald);
add(0, '#009aa8', 8, pcaTeal); add(0, '#0090b8', 7, pcaCerulean); add(0, '#00808f', 8, pcaDeep);
add(0, '#5a9090', 7, pcaGreyTeal); add(0, '#6aaaf0', 6, pcaSky); add(0, '#10d0d0', 6, pcaCyan);
add(0, '#b08a20', 6, pcaGold);

add(1, '#637f78', 15, mdsGroupTop); add(1, '#3f6155', 6, mdsSlate); add(1, '#4f7a66', 6, mdsGreen);
add(1, '#7f9a78', 6, mdsSage); add(1, '#7a6650', 7, mdsTaupe); add(1, '#5f4a40', 6, mdsDarkBrown);
add(1, '#97807a', 10, mdsRose); add(1, '#665a45', 22, mdsBlobCore); add(1, '#665a45', 6, mdsBlobEdge);
add(1, '#dc2a22', 24, mdsRedFill); add(1, '#b0406a', 17, mdsPlumRed); add(1, '#ff2a6a', 14, mdsHotRed);
add(1, '#e85050', 9, mdsSalmonRed); add(1, '#ff9a10', 26, mdsOrange); add(1, '#c87858', 16, mdsRoseBrown);
add(1, '#ffa830', 14, mdsAmber); add(1, '#c0a000', 18, mdsGold); add(1, '#c5173a', 9, mdsCrimson);
add(1, '#a89000', 16, mdsOliveDark); add(1, '#7a5010', 18, mdsUmber); add(1, '#7a2000', 17, mdsMaroon);
add(1, '#b07010', 7, mdsBronze); add(1, '#ffff00', 10, mdsYellow);
add(1, '#6a00c8', 6, mdsSprayPurple); add(1, '#b090f0', 6, mdsSprayLilac); add(1, '#ff9a8a', 7, mdsSprayPeach); add(1, '#ff00ff', 6, mdsSprayMagenta);
add(1, '#8a34e8', 18, mdsViolet); add(1, '#6a00c8', 10, mdsIndigo); add(1, '#b050a0', 19, mdsPlumRose);
add(1, '#8a3488', 20, mdsPlum); add(1, '#ff30a8', 19, mdsHotPink); add(1, '#c000d0', 10, mdsPurple);
add(1, '#a000f0', 10, mdsBrightPurple); add(1, '#a0407a', 16, mdsMauve); add(1, '#8c82f0', 22, mdsPeriwinkle);
add(1, '#8094d8', 19, mdsSteelLilac); add(1, '#ff00ff', 15, mdsMagenta); add(1, '#dcb0d8', 10, mdsLilacPink);
add(1, '#c87860', 15, mdsRosy); add(1, '#e56a94', 20, mdsPinkMid); add(1, '#ff9078', 20, mdsSalmon);
add(1, '#ff7090', 20, mdsCoral); add(1, '#ffa8c0', 10, mdsPalePink);
add(1, '#ff0000', 7, mdsRedLow); add(1, '#a83858', 6, mdsRedLowDark); add(1, '#00f060', 6, mdsSpringLow); add(1, '#ff9020', 6, mdsOrangeLow);
add(1, '#3a9850', 18, mdsGreenTri); add(1, '#008a3c', 9, mdsGreenTriDark); add(1, '#6fbf8a', 7, mdsGreenTriLight);
add(1, '#4a8a78', 15, mdsGreyGreenTop); add(1, '#2f6a88', 15, mdsSteelTop); add(1, '#208f80', 26, mdsRightFill); add(1, '#60a050', 13, mdsMoss);
add(1, '#2ad850', 18, mdsEmerald); add(1, '#3a7a9a', 18, mdsSteelLeft); add(1, '#0000ff', 10, mdsBlue);
add(1, '#0090c0', 22, mdsCerulean); add(1, '#00889c', 24, mdsDeep); add(1, '#00a89c', 20, mdsTealMid);
add(1, '#00a010', 16, mdsGreenBright); add(1, '#4a8a8a', 15, mdsGreyTeal); add(1, '#00b8c0', 20, mdsCyanTeal);
add(1, '#6aa8f0', 22, mdsSky); add(1, '#78e4a8', 20, mdsMint); add(1, '#dce878', 9, mdsPaleY);
add(1, '#a8d838', 18, mdsLimeY); add(1, '#a09820', 20, mdsOlive); add(1, '#006020', 8, mdsForest);
add(1, '#10e0d0', 8, mdsCyan); add(1, '#009aa8', 24, mdsTeal); add(1, '#009aa8', 7, mdsTealEdge); add(1, '#78e4a8', 6, mdsMintOut);

add(2, '#d82858', 18, tsCrimsonPink); add(2, '#d8281e', 18, tsRed); add(2, '#f05050', 15, tsCoral);
add(2, '#e07868', 12, tsSalmonRed); add(2, '#b03e68', 19, tsPlum); add(2, '#ff3080', 14, tsHotPink);
add(2, '#ff4040', 12, tsOrangeRed); add(2, '#b81020', 10, tsDarkRed); add(2, '#c5173a', 16, tsCrimson);
add(2, '#a86000', 14, tsBrown); add(2, '#7a2c00', 15, tsMahogany); add(2, '#c08010', 11, tsBronze);
add(2, '#d4b860', 15, tsKhaki); add(2, '#ffb000', 16, tsAmber); add(2, '#ff9a28', 21, tsOrange);
add(2, '#ff8010', 18, tsOrangeDeep); add(2, '#dcc000', 14, tsGold); add(2, '#ffd800', 14, tsGoldBright);
add(2, '#c0a000', 18, tsMustard); add(2, '#86701a', 15, tsOliveDark); add(2, '#c87860', 16, tsRoseBrown);
add(2, '#b85840', 16, tsSienna); add(2, '#ffa830', 12, tsLightOrange); add(2, '#c86838', 18, tsTerracotta);
add(2, '#c84808', 12, tsBurnt); add(2, '#a86810', 14, tsTan); add(2, '#7c4a10', 17, tsUmber);
add(2, '#ff0000', 6, tsRedDot); add(2, '#ff2080', 11, tsPinkRed); add(2, '#ffff00', 16, tsYellow);
add(2, '#50d088', 15, tsMintSmall); add(2, '#1a7a7a', 8, tsTealSmall); add(2, '#3f8450', 14, tsMoss);
add(2, '#28e040', 22, tsLimeGreen); add(2, '#00a860', 15, tsSeaGreen); add(2, '#2a7a4a', 15, tsForest); add(2, '#0000ff', 15, tsBlue);
add(2, '#00889c', 21, tsTealArc); add(2, '#6a9a70', 21, tsSage); add(2, '#00a09a', 21, tsTealMid); add(2, '#2a8a50', 15, tsGreen2);
add(2, '#0090c0', 21, tsCerulean); add(2, '#30a8cc', 14, tsCeruleanPale); add(2, '#008a20', 15, tsGreen3); add(2, '#006000', 13, tsDarkGreen);
add(2, '#5588a8', 21, tsSteel); add(2, '#50a098', 21, tsTeal4); add(2, '#125268', 18, tsNavy);
add(2, '#a8e0a8', 16, tsPale); add(2, '#b8f0c8', 15, tsPaler); add(2, '#80aa80', 20, tsGrayGreen); add(2, '#5000f0', 15, tsIndigo);
add(2, '#78e4a8', 25, tsLightGreen); add(2, '#a8e8a8', 22, tsPaleGreen); add(2, '#e0f070', 15, tsPaleYellow);
add(2, '#a09820', 25, tsOliveBig); add(2, '#90e428', 20, tsLime); add(2, '#bce028', 22, tsLimeY); add(2, '#88a020', 20, tsOlive2);
add(2, '#a85098', 22, tsPlumTop); add(2, '#8a2a80', 18, tsPlumDark); add(2, '#c060c8', 13, tsLilac); add(2, '#9000b0', 16, tsPurpleDeep);
add(2, '#9040f0', 12, tsViolet); add(2, '#a000ff', 15, tsVioletSmall); add(2, '#e0b0d0', 14, tsPinkLite);
add(2, '#ff88b0', 16, tsRoseLight); add(2, '#ffb0c8', 14, tsPaleRose); add(2, '#e06890', 20, tsRosePink);
add(2, '#ff7090', 25, tsCoralBig); add(2, '#ff9a80', 27, tsSalmon); add(2, '#c87860', 15, tsDustyBrown);
add(2, '#ff00a0', 20, tsHotMagenta); add(2, '#98a0ff', 14, tsPeri); add(2, '#7878c0', 16, tsPeriDark); add(2, '#ff00ff', 23, tsMagenta); add(2, '#b000b0', 12, tsMagentaDark);
add(2, '#ff48b8', 22, tsOrchid); add(2, '#b83098', 18, tsPurpleRose); add(2, '#4c2c90', 10, tsIndigoDark);
add(2, '#a898ff', 18, tsLavender); add(2, '#9088ff', 22, tsPeriBig); add(2, '#8090cc', 20, tsBlueGrey); add(2, '#7878c0', 16, tsSlateBlue);
add(2, '#2a6080', 17, tsSteelMid); add(2, '#206e78', 18, tsDeepTeal); add(2, '#00b0c0', 22, tsCyanMid); add(2, '#006090', 15, tsPetrol); add(2, '#5888c8', 13, tsBlue2);
add(2, '#5a90c0', 20, tsBlueSteel); add(2, '#68a4e4', 24, tsSkyMid); add(2, '#78c4ff', 24, tsSkyLight); add(2, '#78a8ff', 13, tsCorn);
add(2, '#00a800', 21, tsGreenBig); add(2, '#00f000', 12, tsLimeBright); add(2, '#20c060', 12, tsEmeraldSmall); add(2, '#20f0f0', 11, tsCyanLow); add(2, '#00dcc0', 18, tsTurq);
add(2, '#009aa8', 27, tsTealBig); add(2, '#009aa8', 25, tsTealBig2);
add(2, '#4a8878', 21, tsGreenGrey); add(2, '#009038', 17, tsGreenDeep); add(2, '#3a9850', 20, tsGreenMid); add(2, '#6cc48a', 13, tsGreenLite);
add(2, '#665a45', 27, tsBrownBlob); add(2, '#4a6a60', 8, tsGreySmall); add(2, '#5f8078', 10, tsSlate2); add(2, '#7a6650', 8, tsTaupeS); add(2, '#508060', 9, tsSeaS); add(2, '#80a078', 11, tsSageS); add(2, '#604848', 7, tsMaroonS); add(2, '#97807a', 9, tsRoseS);
add(2, '#ff0000', 7, tsRedCluster); add(2, '#00f060', 6, tsSpringDot);

add(3, '#0000ff', 5, umBlue); add(3, '#665a45', 7, umBrownTop); add(3, '#7f9a78', 4, umSageLine); add(3, '#ff2080', 4, umHotPink); add(3, '#f05050', 4, umCoral);
add(3, '#9088f0', 10, umPeri); add(3, '#ff00ff', 11, umMagenta); add(3, '#4c3c90', 7, umSlate); add(3, '#a030a8', 6, umPurple); add(3, '#ff48b8', 9, umOrchid); add(3, '#a000ff', 4, umPurpleSmall);
add(3, '#20d040', 7, umGreenDot); add(3, '#00a860', 6, umSeaDot); add(3, '#e800a0', 12, umMagentaDeep); add(3, '#a04090', 11, umPlumLeft); add(3, '#ff9a80', 12, umSalmonBar); add(3, '#ff7090', 12, umPinkBar);
add(3, '#b03e68', 10, umPlumArc); add(3, '#d8281e', 12, umRedArc); add(3, '#ff2a6a', 8, umPinkArc); add(3, '#a01010', 5, umMaroonDot);
add(3, '#9000b0', 6, umVioletBar); add(3, '#8030e0', 5, umVioletBar2); add(3, '#ff0000', 4, umRedDot); add(3, '#c87848', 5, umTerracottaArc); add(3, '#ffa830', 5, umAmberArc); add(3, '#a86010', 8, umBrownArc); add(3, '#8a3c08', 11, umDarkBrownDot);
add(3, '#78e4a8', 14, umMintBlob); add(3, '#d0e878', 9, umPaleYBlob); add(3, '#a8e0a8', 5, umPaleSmall); add(3, '#2a7a80', 4, umTealArc); add(3, '#1a5a70', 6, umNavyArc); add(3, '#5a90c8', 6, umBlueArc); add(3, '#78c4ff', 9, umSkyArc); add(3, '#3080b0', 6, umPetrolArc); add(3, '#00b0c0', 9, umCyanArc);
add(3, '#e0a0c8', 4, umPaleDot); add(3, '#f0a0c0', 3, umPaleDot2); add(3, '#4a8070', 4, umGreyDot); add(3, '#5000f0', 4, umVioletDot); add(3, '#5f8078', 3, umTinyGrey);
add(3, '#009aa8', 14, umTealBlob); add(3, '#00d8c0', 4, umTurqLine); add(3, '#3a9850', 11, umGreenTop); add(3, '#008a38', 7, umGreenDeep); add(3, '#4a8878', 9, umGreyTeal);
add(3, '#0090c0', 8, umCeruNeck); add(3, '#00889c', 13, umTealNeck); add(3, '#2a8a50', 10, umGreenNeck); add(3, '#6a9a70', 12, umSageNeck);
add(3, '#1a5a70', 4, umLineDark); add(3, '#50a098', 5, umLineTeal); add(3, '#008a20', 10, umLineGreen); add(3, '#bce028', 15, umLimeBlob); add(3, '#a09820', 16, umOliveBlob);
add(3, '#c5173a', 5, umCrimsonBar); add(3, '#d4b860', 6, umKhakiBar); add(3, '#ffb000', 11, umAmberBar); add(3, '#c0a000', 6, umMustardBar); add(3, '#ff8a20', 11, umOrangeBar); add(3, '#f0d000', 6, umYellowBar);
add(3, '#e86a9a', 8, umRosy); add(3, '#7878c0', 6, umBlueGrey); add(3, '#ffff00', 5, umYellowDot); add(3, '#604838', 3, umDarkDot); add(3, '#3f6155', 4, umSlateDot);
add(3, '#50d088', 4, umMintBar); add(3, '#6a6048', 4, umGreyBar); add(3, '#8a7060', 4, umTaupeDot); add(3, '#508060', 4, umSeaBar); add(3, '#3a7050', 5, umForestDot); add(3, '#5c4a48', 4, umMaroonDots); add(3, '#3a8050', 4, umForestBar);
add(3, '#00b000', 11, umGreenFunnel); add(3, '#10c040', 4, umGreenStem); add(3, '#10f0e0', 4, umCyanFunnel); add(3, '#97807a', 4, umRoseBar);

var option = {
  animation: false,
  backgroundColor: '#fff',
  title: frames.map(function (f, i) {
    return {
      text: titles[i],
      left: f.cx,
      top: f.ty,
      textAlign: 'center',
      textStyle: {fontFamily: 'Lato', fontWeight: 900, fontSize: 30, color: '#000'}
    };
  }),
  grid: frames.map(function (f) {
    return {left: f.left, top: f.top, width: f.width, height: f.height, show: true,
      borderColor: '#000', borderWidth: 3, backgroundColor: '#fff'};
  }),
  xAxis: frames.map(function (f, i) {
    return {type: 'value', gridIndex: i, min: f.x[0], max: f.x[1], show: false};
  }),
  yAxis: frames.map(function (f, i) {
    return {type: 'value', gridIndex: i, min: f.y[0], max: f.y[1], inverse: true, show: false};
  }),
  series: series
};

chart.setOption(option);
</script>
</body>
</html>
